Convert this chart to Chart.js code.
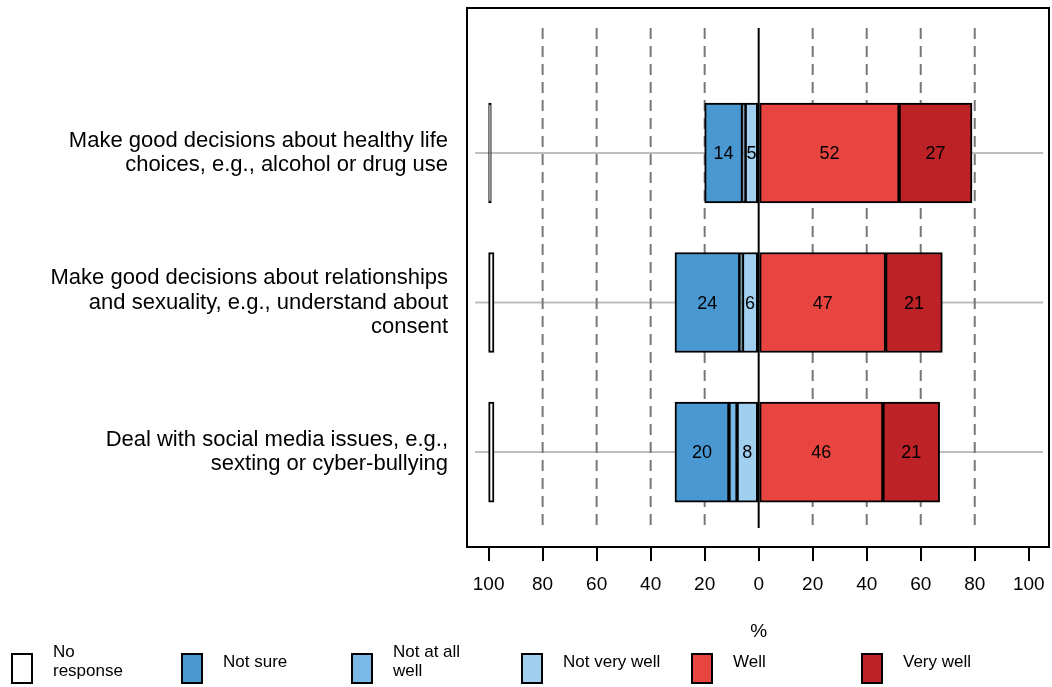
<!DOCTYPE html>
<html>
<head>
<meta charset="utf-8">
<script src="https://cdn.jsdelivr.net/npm/chart.js@4.4.0/dist/chart.umd.min.js"></script>
<style>
  body { margin: 0; background: #fff; }
  #wrap { width: 1052px; height: 687px; }
</style>
</head>
<body>
<div id="wrap"><canvas id="myChart"></canvas></div>
<script>
const categories = [
  ['Make good decisions about healthy life', 'choices, e.g., alcohol or drug use'],
  ['Make good decisions about relationships', 'and sexuality, e.g., understand about', 'consent'],
  ['Deal with social media issues, e.g.,', 'sexting or cyber-bullying'],
];
const noResponse = [1, 2, 2];
const notSure = [14, 24, 20];
const notAtAllWell = [1, 1, 3];
const notVeryWell = [5, 6, 8];
const well = [52, 47, 46];
const veryWell = [27, 21, 21];
const xTicks = [-100, -80, -60, -40, -20, 0, 20, 40, 60, 80, 100];
const legendLabels = [['No', 'response'], ['Not sure'], ['Not at all', 'well'], ['Not very well'], ['Well'], ['Very well']];

const FONT = '"Liberation Sans", Arial, sans-serif';
Chart.defaults.font.family = FONT;
Chart.defaults.color = '#000';

// floating bar for one response group, range built from the arrays above
function bars(label, values, color, range) {
  return {
    label: label,
    values: values,
    data: values.map((v, i) => ({ y: i + 1, x: range(v, i) })),
    backgroundColor: color,
    borderColor: '#000',
    borderWidth: 2,
    borderSkipped: false,
    grouped: false,
    barThickness: 100,
  };
}

const datasets = [
  bars('No response', noResponse, '#ffffff', (v) => [-100, -100 + v]),
  bars('Not sure', notSure, '#4a98d2', (v, i) => [-(notVeryWell[i] + notAtAllWell[i] + v), -(notVeryWell[i] + notAtAllWell[i])]),
  bars('Not at all well', notAtAllWell, '#7ab8e6', (v, i) => [-(notVeryWell[i] + v), -notVeryWell[i]]),
  bars('Not very well', notVeryWell, '#a0cfef', (v) => [-v, 0]),
  bars('Well', well, '#e84541', (v) => [0, v]),
  bars('Very well', veryWell, '#bd2226', (v, i) => [well[i], well[i] + v]),
];

const frame = {
  id: 'frame',
  beforeDatasetsDraw(chart) {
    const { ctx, chartArea: a, scales: { x, y } } = chart;
    ctx.save();
    ctx.lineWidth = 2;
    ctx.strokeStyle = '#bebebe';
    categories.forEach((c, i) => {
      const py = y.getPixelForValue(i + 1);
      ctx.beginPath();
      ctx.moveTo(a.left + 8, py);
      ctx.lineTo(a.right - 6, py);
      ctx.stroke();
    });
    const top = a.top + 20, bottom = a.bottom - 19;
    ctx.strokeStyle = '#777';
    ctx.setLineDash([11, 7]);
    xTicks.forEach((t) => {
      if (t === 0 || Math.abs(t) === 100) return;
      const px = x.getPixelForValue(t);
      ctx.beginPath();
      ctx.moveTo(px, top);
      ctx.lineTo(px, bottom);
      ctx.stroke();
    });
    ctx.setLineDash([]);
    ctx.strokeStyle = '#000';
    const zx = x.getPixelForValue(0);
    ctx.beginPath();
    ctx.moveTo(zx, top);
    ctx.lineTo(zx, bottom);
    ctx.stroke();
    ctx.strokeRect(a.left, a.top, a.width, a.height);
    ctx.restore();
  },
};

const valueLabels = {
  id: 'valueLabels',
  afterDatasetsDraw(chart) {
    const ctx = chart.ctx;
    ctx.save();
    ctx.font = '18px ' + FONT;
    ctx.fillStyle = '#000';
    ctx.textAlign = 'center';
    ctx.textBaseline = 'middle';
    chart.data.datasets.forEach((ds, d) => {
      if (d === 0) return;
      chart.getDatasetMeta(d).data.forEach((bar, i) => {
        if (ds.values[i] < 5) return;
        const p = bar.getCenterPoint();
        ctx.fillText(ds.values[i], p.x, p.y + 1);
      });
    });
    ctx.restore();
  },
};

const bottomLegend = {
  id: 'bottomLegend',
  afterDraw(chart) {
    const ctx = chart.ctx;
    ctx.save();
    ctx.fillStyle = '#000';
    ctx.textBaseline = 'middle';
    ctx.textAlign = 'center';
    ctx.font = '19px ' + FONT;
    ctx.fillText('%', chart.scales.x.getPixelForValue(0), 632);
    ctx.textAlign = 'left';
    ctx.font = '17px ' + FONT;
    ctx.lineWidth = 2;
    ctx.strokeStyle = '#000';
    chart.data.datasets.forEach((ds, i) => {
      const bx = 12 + i * 170;
      ctx.fillStyle = ds.backgroundColor;
      ctx.fillRect(bx, 654, 20, 29);
      ctx.strokeRect(bx, 654, 20, 29);
      ctx.fillStyle = '#000';
      const lines = legendLabels[i];
      lines.forEach((t, k) => {
        ctx.fillText(t, bx + 41, 662 + (k - (lines.length - 1) / 2) * 19);
      });
    });
    ctx.restore();
  },
};

const ctx = document.getElementById('myChart').getContext('2d');
const chart = new Chart(ctx, {
  type: 'bar',
  data: { datasets: datasets },
  options: {
    indexAxis: 'y',
    responsive: true,
    maintainAspectRatio: false,
    animation: false,
    layout: { padding: { top: 8, right: 3, left: 0, bottom: 0 } },
    plugins: { legend: { display: false }, tooltip: { enabled: false } },
    scales: {
      x: {
        type: 'linear',
        min: -108,
        max: 107.5,
        afterBuildTicks: (s) => { s.ticks = xTicks.map((v) => ({ value: v })); },
        afterFit: (s) => { s.height = 140; s.paddingLeft = 0; s.paddingRight = 0; },
        grid: { drawOnChartArea: false, drawTicks: true, tickLength: 14, color: '#000', lineWidth: 2 },
        border: { display: false },
        ticks: { color: '#000', font: { size: 19 }, padding: 12, autoSkip: false, maxRotation: 0, callback: (v) => Math.abs(v) },
      },
      y: {
        type: 'linear',
        reverse: true,
        offset: false,
        min: 0.03,
        max: 3.635,
        afterBuildTicks: (s) => { s.ticks = categories.map((c, i) => ({ value: i + 1 })); },
        afterFit: (s) => { s.width = 467; s.paddingTop = 0; s.paddingBottom = 0; },
        grid: { display: false, offset: false },
        border: { display: false },
        ticks: { color: '#000', font: { size: 22, lineHeight: 1.11 }, padding: 11, callback: (v) => categories[v - 1] },
      },
    },
  },
  plugins: [frame, valueLabels, bottomLegend],
});
</script>
</body>
</html>
